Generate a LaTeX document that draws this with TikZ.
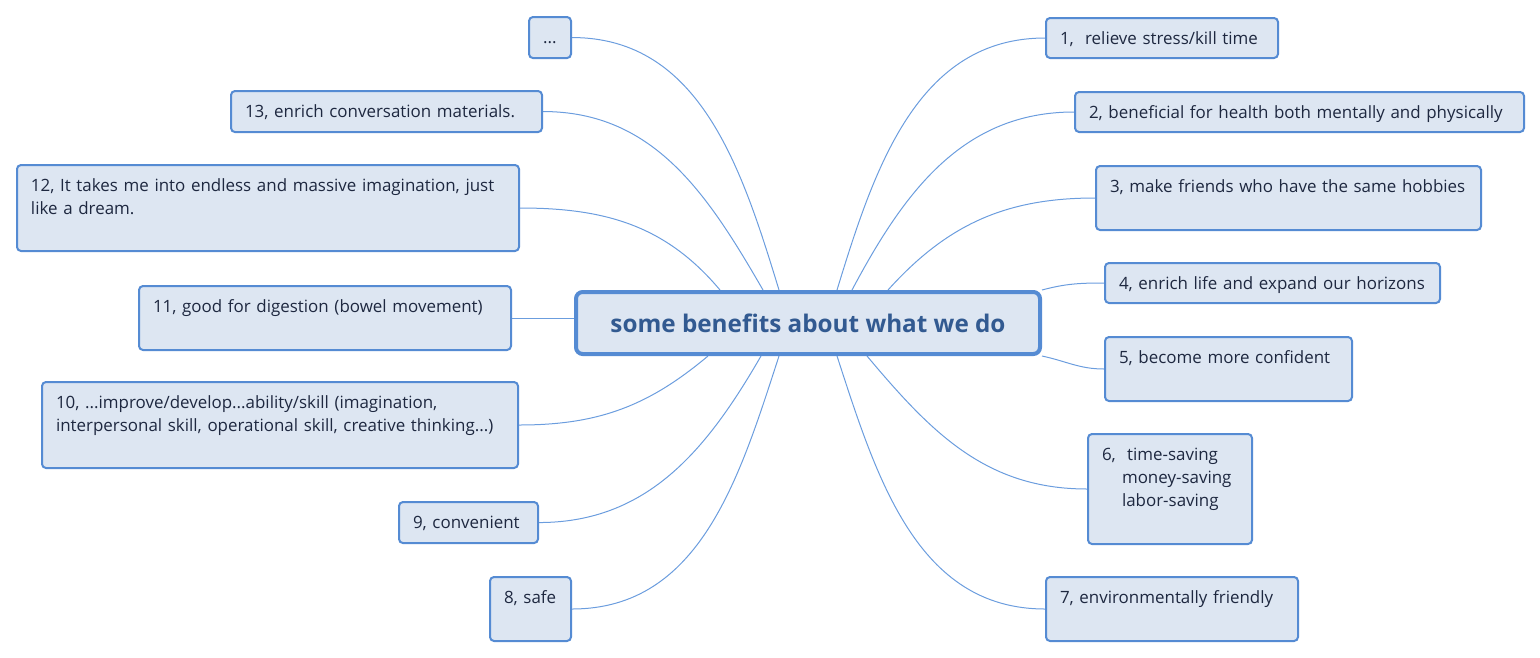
\documentclass[tikz,border=0pt]{standalone}
\usepackage{fontspec}
\setmainfont{Open Sans}
\usetikzlibrary{calc,backgrounds}
\definecolor{edgeblue}{RGB}{107,157,222}
\definecolor{boxline}{RGB}{85,139,211}
\definecolor{boxfill}{RGB}{221,230,242}
\definecolor{inktext}{RGB}{30,40,64}
\definecolor{roottext}{RGB}{50,90,145}
\tikzset{
  leaf/.style={draw=boxline, fill=boxfill, line width=1.5pt, rounded corners=3pt,
    anchor=north west, align=left, inner xsep=10.5pt, inner ysep=3pt,
    text height=16.9pt, text depth=7.1pt, text=inktext,
    font=\fontsize{12.7}{17.25}\selectfont},
  root/.style={draw=boxline, fill=boxfill, line width=3pt, rounded corners=5pt,
    minimum width=348pt, minimum height=46.5pt, text=roottext,
    font=\fontsize{18.2}{22}\selectfont\bfseries},
  branch/.style={draw=edgeblue, line width=0.75pt}
}
\begin{document}
\begin{tikzpicture}[x=0.75pt, y=-0.75pt]
  \useasboundingbox (0,0) rectangle (1540,657);
  % centre
  \node[root] (root) at (808,323) {some benefits about what we do};
  % right side
  \node[leaf, text width=153pt] (b1) at (1045,17) {1,~ relieve stress/kill time};
  \node[leaf, text width=315.75pt] (b2) at (1074,91) {2, beneficial for health both mentally and physically};
  \node[leaf, text width=267.75pt, text depth=25.1pt] (b3) at (1095,165) {3, make friends who have the same hobbies};
  \node[leaf, text width=230.25pt] (b4) at (1104,262) {4, enrich life and expand our horizons};
  \node[leaf, text width=164.25pt, text depth=25.1pt] (b5) at (1104,336) {5, become more confident};
  \node[leaf, text width=102pt, text depth=59.6pt] (b6) at (1087,433)
    {6,~ time-saving\\\hspace*{15pt}money-saving\\\hspace*{15pt}labor-saving};
  \node[leaf, text width=168pt, text depth=25.1pt] (b7) at (1045,576) {7, environmentally friendly};
  % left side
  \node[leaf, text width=10.5pt, text depth=7.9pt] (bd) at (528,16) {...};
  \node[leaf, text width=212.25pt, text depth=7.9pt] (b13) at (230,90) {13, enrich conversation materials.};
  \node[leaf, text width=355.5pt, text depth=41.6pt] (b12) at (16,164)
    {12, It takes me into endless and massive imagination, just\\like a dream.};
  \node[leaf, text width=258pt, text depth=25.1pt] (b11) at (138,285) {11, good for digestion (bowel movement)};
  \node[leaf, text width=336pt, text depth=41.6pt] (b10) at (41,381)
    {10, ...improve/develop...ability/skill (imagination,\\interpersonal skill, operational skill, creative thinking...)};
  \node[leaf, text width=83.25pt, text depth=7.9pt] (b9) at (398,501) {9, convenient};
  \node[leaf, text width=39.75pt, text depth=25.1pt] (b8) at (489,576) {8, safe};
  % branches
  \begin{scope}[on background layer]
    \draw[branch] (bd.east) to[out=0,in=107] ($(root.north)+(-29,0)$);
    \draw[branch] (b13.east) to[out=0,in=120] ($(root.north)+(-45,0)$);
    \draw[branch] (b12.east) to[out=0,in=130] ($(root.north)+(-88,0)$);
    \draw[branch] (b11.east) -- (b11.east -| root.west);
    \draw[branch] (b10.east) to[out=0,in=-140] ($(root.south)+(-100,0)$);
    \draw[branch] (b9.east) to[out=0,in=-120] ($(root.south)+(-47,0)$);
    \draw[branch] (b8.east) to[out=0,in=-108] ($(root.south)+(-29,0)$);
    \draw[branch] (b1.west) to[out=180,in=73] ($(root.north)+(29,0)$);
    \draw[branch] (b2.west) to[out=180,in=62] ($(root.north)+(44,0)$);
    \draw[branch] (b3.west) to[out=180,in=48] ($(root.north)+(80,0)$);
    \draw[branch] (b4.west) to[out=180,in=15] (root.north east);
    \draw[branch] (b5.west) to[out=180,in=-12] (root.south east);
    \draw[branch] (b6.west) to[out=180,in=-50] ($(root.south)+(59,0)$);
    \draw[branch] (b7.west) to[out=180,in=-72] ($(root.south)+(29,0)$);
  \end{scope}
\end{tikzpicture}
\end{document}
